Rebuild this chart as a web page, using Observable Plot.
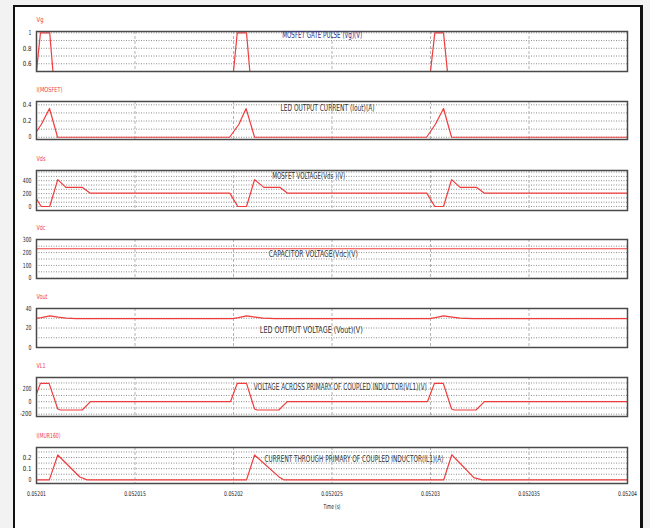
<!DOCTYPE html>
<html><head><meta charset="utf-8">
<script src="https://cdn.jsdelivr.net/npm/d3@7"></script>
<script src="https://cdn.jsdelivr.net/npm/@observablehq/plot@0.6"></script>
<style>
html,body{margin:0;padding:0;width:650px;height:528px;overflow:hidden;background:#f2f2f2;}
#frame{position:absolute;left:13px;top:5px;width:625px;height:540px;background:#fff;border-left:2px solid #111;border-top:2px solid #111;border-right:3px solid #111;}
.panel{position:absolute;left:0;}
svg text{font-stretch:condensed;}
</style></head><body>
<div id="frame"></div>
<div id="root"></div>
<script>
// ---- data (time in microseconds after T0 seconds) ----
const T0 = 0.05201;
const xTicks = [0.05201, 0.052015, 0.05202, 0.052025, 0.05203, 0.052035, 0.05204];
const xTickLabels = ["0.05201", "0.052015", "0.05202", "0.052025", "0.05203", "0.052035", "0.05204"];

const tGate = [-0.2, 0.2, 0.67, 1.0, 9.81, 10.19, 10.66, 11.0, 19.78, 20.22, 20.66, 21.06, 30.5];
const vGate = [0, 1, 1, 0, 0, 1, 1, 0, 0, 1, 1, 0, 0];

const tImos = [-0.2, 0.25, 0.66, 1.07, 9.8, 10.27, 10.64, 11.07, 19.8, 20.25, 20.66, 21.07, 30.5];
const vImos = [0, 0.16, 0.355, 0, 0, 0.157, 0.354, 0, 0, 0.16, 0.355, 0, 0];

const tVds = [-0.19, 0.24, 0.67, 1.08, 1.49, 2.32, 2.71, 9.81, 10.22, 10.66, 11.07, 11.54, 12.35, 12.73, 19.81, 20.22, 20.66, 21.07, 21.5, 22.33, 22.72, 30.5];
const vVds = [208, 0, 0, 417, 297, 297, 208, 208, 0, 0, 417, 297, 297, 208, 208, 0, 0, 417, 297, 297, 208, 208];

const tVdc = [-0.5, 30.5];
const vVdc = [230, 230];

const tVout = [-0.1, 0.25, 0.68, 1.1, 1.5, 2.0, 9.95, 10.25, 10.66, 11.1, 11.5, 12.1, 19.95, 20.25, 20.66, 21.1, 21.5, 22.1, 30.5];
const vVout = [29.7, 30.6, 32.5, 31.2, 30.2, 29.7, 29.7, 30.6, 32.5, 31.2, 30.2, 29.7, 29.7, 30.6, 32.5, 31.2, 30.2, 29.7, 29.7];

const tVL1 = [-0.15, 0.2, 0.64, 1.08, 1.22, 2.32, 2.74, 9.85, 10.19, 10.66, 11.07, 11.2, 12.3, 12.73, 19.85, 20.2, 20.65, 21.07, 21.21, 22.31, 22.74, 30.5];
const vVL1 = [2, 293, 293, -117, -133, -133, 2, 2, 293, 293, -117, -133, -133, 2, 2, 293, 293, -117, -133, -133, 2, 2];

const tImur = [-0.5, 0.65, 1.08, 2.2, 2.57, 10.66, 11.07, 12.35, 12.55, 20.67, 21.08, 22.2, 22.62, 30.5];
const vImur = [0, 0, 0.223, 0.025, 0, 0, 0.223, 0.02, 0, 0, 0.225, 0.02, 0, 0];

const labels = ["Vg", "I(MOSFET)", "Vds", "Vdc", "Vout", "VL1", "I(MUR160)"];
const titles = ["MOSFET GATE PULSE (Vg)(V)", "LED OUTPUT CURRENT (Iout)(A)", "MOSFET VOLTAGE(Vds )(V)",
  "CAPACITOR VOLTAGE(Vdc)(V)", "LED OUTPUT VOLTAGE (Vout)(V)",
  "VOLTAGE ACROSS PRIMARY OF COUPLED INDUCTOR(VL1)(V)", "CURRENT THROUGH PRIMARY OF COUPLED INDUCTOR(IL1)(A)"];
const yTicks = [[0.6, 0.8, 1], [0, 0.2, 0.4], [0, 200, 400], [0, 100, 200, 300], [0, 20, 40], [-200, 0, 200], [0, 0.1, 0.2]];
const yGrid = [[0.6, 0.7, 0.8, 0.9, 1.0], [0, 0.1, 0.2, 0.3, 0.4], [0, 66.7, 133.3, 200, 266.7, 333.3, 400, 466.7, 533.3],
  [0, 50, 100, 150, 200, 250], [0, 10, 20, 30, 40], [-200, -100, 0, 100, 200, 300], [0, 0.05, 0.1, 0.15, 0.2, 0.25]];
const series = [[tGate, vGate], [tImos, vImos], [tVds, vVds], [tVdc, vVdc], [tVout, vVout], [tVL1, vVL1], [tImur, vImur]];

// ---- layout ----
const layout = [
  {top: 31, h: 40, domain: [0.5, 1.017], tx: 281.7, tw: 80, ty: 4, tc: "#2e2e8c"},
  {top: 101, h: 38, domain: [-0.028, 0.441], tx: 280, tw: 94, ty: 6.5, tc: "#333"},
  {top: 170, h: 40, domain: [-62, 558], tx: 271.7, tw: 73, ty: 5.7, tc: "#333"},
  {top: 239, h: 39, domain: [-2, 302], tx: 268.3, tw: 89, ty: 14.3, tc: "#333"},
  {top: 308, h: 39, domain: [0, 40], tx: 259.3, tw: 103, ty: 21.3, tc: "#333"},
  {top: 377, h: 39, domain: [-237, 387], tx: 253.3, tw: 173, ty: 9.7, tc: "#333"},
  {top: 447, h: 36, domain: [-0.033, 0.29], tx: 264, tw: 179, ty: 11.3, tc: "#333"}
];
const RED = "#f03c3c";
const FONT = '"DejaVu Sans", sans-serif';
const MT = 22, ML = 36, MR = 23;
const root = document.getElementById("root");

function squeeze(svg, str, w) {
  svg.querySelectorAll("text").forEach(el => {
    if (el.textContent === str) {
      el.setAttribute("textLength", w);
      el.setAttribute("lengthAdjust", "spacingAndGlyphs");
    }
  });
}

layout.forEach((L, i) => {
  const last = i === layout.length - 1;
  const MB = last ? 40 : 4;
  const [ts, vs] = series[i];
  const rows = ts.map((t, k) => ({t: T0 + t * 1e-6, v: vs[k]}));
  const marks = [
    Plot.gridY(yGrid[i], {stroke: "#8c8c8c", strokeOpacity: 1, strokeWidth: 1, strokeDasharray: "1,1.5"}),
    Plot.gridX(xTicks, {stroke: "#b4b4b4", strokeOpacity: 1, strokeWidth: 1, strokeDasharray: "3,2"}),
    Plot.axisY(yTicks[i], {tickSize: 0, tickPadding: 5, label: null, fontSize: 7, fill: "#222", tickFormat: d => String(d)}),
    Plot.line(rows, {x: "t", y: "v", stroke: RED, strokeWidth: 1.2, clip: true}),
    Plot.frame({stroke: "#4a4a4a", strokeWidth: 1.5}),
    Plot.text([labels[i]], {text: d => d, frameAnchor: "top-left", textAnchor: "start", lineAnchor: "middle", dy: -11.5, fill: RED, fontSize: 7}),
    Plot.text([titles[i]], {text: d => d, frameAnchor: "top-left", textAnchor: "start", lineAnchor: "middle", dx: L.tx - ML, dy: L.ty, fill: L.tc, fontSize: 8.5})
  ];
  if (last) {
    marks.push(Plot.axisX(xTicks, {tickSize: 0, tickPadding: 8, label: null, fontSize: 6.5, fill: "#222",
      tickFormat: d => xTickLabels[xTicks.indexOf(d)]}));
    marks.push(Plot.text(["Time (s)"], {text: d => d, frameAnchor: "bottom", lineAnchor: "middle", dy: 23.5, fill: "#222", fontSize: 7}));
  }
  const svg = Plot.plot({
    width: 650, height: MT + L.h + MB,
    marginTop: MT, marginBottom: MB, marginLeft: ML, marginRight: MR,
    style: {background: "transparent", fontFamily: FONT, fontSize: "7px", overflow: "visible"},
    x: {type: "linear", domain: [xTicks[0], xTicks[xTicks.length - 1]], axis: last ? undefined : null},
    y: {domain: L.domain},
    marks
  });
  squeeze(svg, titles[i], L.tw);
  // condensed look of the original viewer's labels
  const labelW = {"Vg": 7, "I(MOSFET)": 26, "Vds": 9, "Vdc": 9, "Vout": 11, "VL1": 9, "I(MUR160)": 24};
  squeeze(svg, labels[i], labelW[labels[i]]);
  if (last) {
    xTickLabels.forEach(s => squeeze(svg, s, s.length * 2.7));
    squeeze(svg, "Time (s)", 17);
  }
  svg.querySelectorAll("g[aria-label='y-axis tick label'] text").forEach(el => {
    el.setAttribute("textLength", el.textContent.length * 2.9);
    el.setAttribute("lengthAdjust", "spacingAndGlyphs");
  });
  const div = document.createElement("div");
  div.className = "panel";
  div.style.top = (L.top - MT) + "px";
  div.appendChild(svg);
  root.appendChild(div);
});
</script></body></html>
